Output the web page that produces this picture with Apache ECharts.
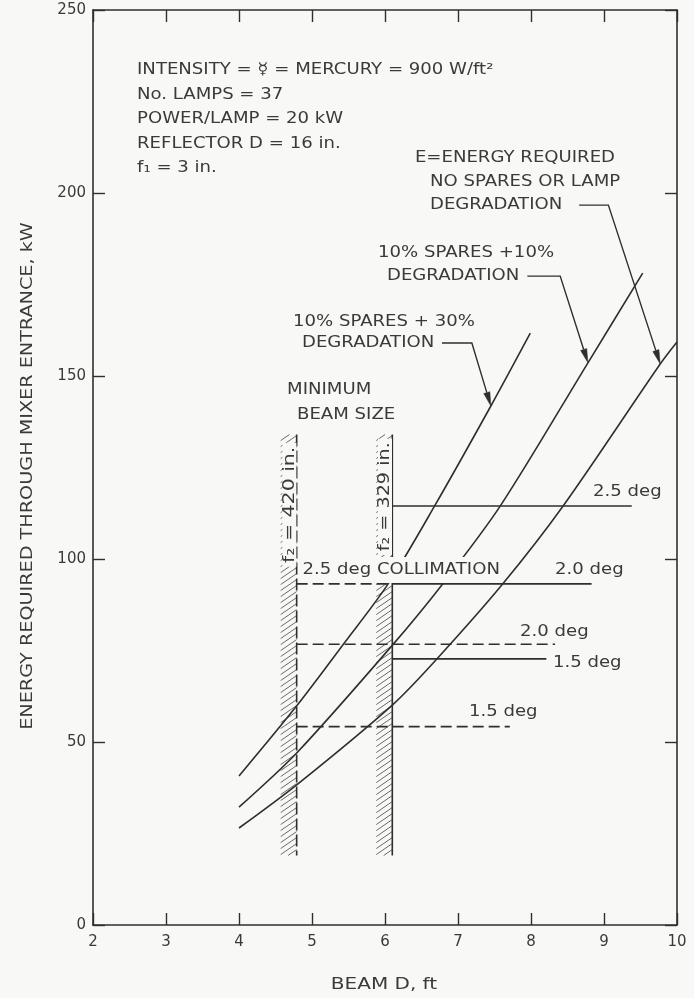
<!DOCTYPE html>
<html>
<head>
<meta charset="utf-8">
<script src="https://cdn.jsdelivr.net/npm/echarts@6/dist/echarts.min.js"></script>
<style>
  html, body { margin: 0; padding: 0; background: #f8f8f6; }
  #chart { width: 694px; height: 998px; }
</style>
</head>
<body>
<div id="chart"></div>
<script>
// Energy required through mixer entrance (kW) against beam diameter (ft)

const xTickValues = [2, 3, 4, 5, 6, 7, 8, 9, 10];
const yTickValues = [0, 50, 100, 150, 200, 250];

// Energy curves, [beam D (ft), energy (kW)]
const spares10Deg30 = [[4.0, 40.7], [4.78, 59.6], [5.43, 76.7], [6.05, 93.4], [6.68, 114.5], [7.45, 141.8], [7.99, 161.7]];
const spares10Deg10 = [[4.0, 32.2], [4.79, 47.0], [6.09, 76.2], [6.79, 93.2], [7.58, 114.5], [8.78, 153.6], [9.53, 178.1]];
const noSpares      = [[4.0, 26.5], [4.79, 38.3], [6.10, 60.1], [6.71, 72.7], [7.60, 92.9], [8.44, 114.5], [9.77, 153.3], [10.0, 159.3]];

// Minimum beam size for each secondary focal length
const f2Labels = ['f\u2082 = 420 in.', 'f\u2082 = 329 in.'];
const minBeamD = [4.79, 6.10];
const bandEnergy = [19, 134];

// Collimation limits, f2 = 420 in. (dashed) and f2 = 329 in. (solid)
const collimationDeg = ['2.5 deg', '2.0 deg', '1.5 deg'];
const f2_420_energy = [93.2, 76.7, 54.2];
const f2_420_endD   = [6.10, 8.33, 7.71];
const f2_329_energy = [114.5, 93.2, 72.7];
const f2_329_endD   = [9.38, 8.83, 8.21];

const INK = '#2f2f2f';
const TEXT = '#3a3a3a';
const BG = '#f8f8f6';
const FONT = '"DejaVu Sans", sans-serif';

const chart = echarts.init(document.getElementById('chart'), null, { renderer: 'canvas' });

function curveSeries(name, data) {
  return {
    name, type: 'line', data, smooth: 0.3,
    showSymbol: false, symbol: 'none', z: 3,
    lineStyle: { color: INK, width: 1.6 }
  };
}
function flatSeries(name, fromD, toD, e, dashed) {
  return {
    name, type: 'line', data: [[fromD, e], [toD, e]],
    showSymbol: false, symbol: 'none', z: 3,
    lineStyle: { color: INK, width: 1.6, type: dashed ? [11, 5] : 'solid' }
  };
}

const series = [
  curveSeries('10% spares + 30% degradation', spares10Deg30),
  curveSeries('10% spares + 10% degradation', spares10Deg10),
  curveSeries('No spares or lamp degradation', noSpares)
];
collimationDeg.forEach((deg, i) => {
  series.push(flatSeries('f2 420 ' + deg, minBeamD[0], f2_420_endD[i], f2_420_energy[i], true));
  series.push(flatSeries('f2 329 ' + deg, minBeamD[1], f2_329_endD[i], f2_329_energy[i], false));
});

// Hatched minimum-beam-size bands
series.push({
  name: 'Minimum beam size', type: 'custom', z: 2,
  data: minBeamD.map((d, i) => [d, bandEnergy[0], bandEnergy[1], i]),
  encode: { x: 0, y: [1, 2] },
  renderItem(params, api) {
    const xv = api.value(0), lo = api.value(1), hi = api.value(2), idx = api.value(3);
    const pTop = api.coord([xv, hi]);
    const pBot = api.coord([xv, lo]);
    const xr = pTop[0], w = 16, xl = xr - w, top = pTop[1], bot = pBot[1];
    const rise = 11, step = 6;
    const children = [];
    for (let y0 = top; y0 < bot + rise; y0 += step) {
      let x1 = xl, y1 = y0, x2 = xr, y2 = y0 - rise;
      if (y1 > bot) { const t = (y1 - bot) / rise; x1 = xl + t * w; y1 = bot; }
      if (y2 < top) { const t = (top - y2) / rise; x2 = xr - t * w; y2 = top; }
      if (y1 <= y2) continue;
      children.push({ type: 'line', shape: { x1, y1, x2, y2 }, style: { stroke: '#5a5a5a', lineWidth: 0.9 } });
    }
    const edgeStyle = { stroke: INK, lineWidth: 1.6 };
    if (idx === 0) edgeStyle.lineDash = [12, 4];
    children.push({ type: 'line', shape: { x1: xr, y1: top, x2: xr, y2: bot }, style: edgeStyle });
    return { type: 'group', children };
  }
});

const frameAxis = {
  type: 'value', splitLine: { show: false },
  axisLine: { show: true, onZero: false, lineStyle: { color: INK, width: 1.6 } },
  axisTick: { show: true, inside: true, length: 12, lineStyle: { color: INK, width: 1.4 } }
};

chart.setOption({
  animation: false,
  backgroundColor: BG,
  grid: { left: 93, right: 17, top: 10, bottom: 73 },
  xAxis: [
    Object.assign({}, frameAxis, {
      min: xTickValues[0], max: xTickValues[xTickValues.length - 1], interval: 1, position: 'bottom',
      axisLabel: { color: TEXT, fontSize: 15, fontFamily: FONT, margin: 10 }
    }),
    Object.assign({}, frameAxis, {
      min: xTickValues[0], max: xTickValues[xTickValues.length - 1], interval: 1, position: 'top',
      axisLabel: { show: false }
    })
  ],
  yAxis: [
    Object.assign({}, frameAxis, {
      min: yTickValues[0], max: yTickValues[yTickValues.length - 1], interval: 50, position: 'left',
      axisLabel: { color: TEXT, fontSize: 15, fontFamily: FONT, margin: 7 }
    }),
    Object.assign({}, frameAxis, {
      min: yTickValues[0], max: yTickValues[yTickValues.length - 1], interval: 50, position: 'right',
      axisLabel: { show: false }
    })
  ],
  series
});

// ---- annotations, placed in data coordinates ----
const toPx = p => chart.convertToPixel({ gridIndex: 0 }, p);
const elements = [];

function addText(str, at, o) {
  o = o || {};
  const p = o.px ? at : toPx(at);
  const style = {
    text: str, fill: TEXT, font: (o.size || 16) + 'px ' + FONT,
    align: o.align || 'left', verticalAlign: 'middle',
    textAlign: o.align || 'left', textVerticalAlign: 'middle'
  };
  if (o.bg) {
    style.backgroundColor = BG;
    style.padding = o.pad || [4, 2];
    if (o.lineHeight) style.lineHeight = o.lineHeight;
  }
  elements.push({
    type: 'text', x: p[0], y: p[1], rotation: o.rot || 0,
    scaleX: o.sx || 1.13, scaleY: 1, z: 100, style
  });
}

function addLeader(start, elbow, tip) {
  const a = toPx(start), b = toPx(elbow), c = toPx(tip);
  const dx = c[0] - b[0], dy = c[1] - b[1], len = Math.hypot(dx, dy);
  const ux = dx / len, uy = dy / len, hl = 14, hw = 3.2;
  const base = [c[0] - ux * hl, c[1] - uy * hl];
  elements.push({
    type: 'polyline', z: 100,
    shape: { points: [a, b, base] },
    style: { stroke: INK, lineWidth: 1.4, fill: null }
  });
  elements.push({
    type: 'polygon', z: 100,
    shape: { points: [c, [base[0] - uy * hw, base[1] + ux * hw], [base[0] + uy * hw, base[1] - ux * hw]] },
    style: { fill: INK, stroke: INK, lineWidth: 0.5 }
  });
}

// Parameter block
addText('INTENSITY = \u263F = MERCURY = 900 W/ft\u00B2', [2.603, 233.6]);
addText('No. LAMPS = 37', [2.603, 226.8]);
addText('POWER/LAMP = 20 kW', [2.603, 220.2]);
addText('REFLECTOR D = 16 in.', [2.603, 213.4]);
addText('f\u2081 = 3 in.', [2.603, 206.8]);

// Curve captions with leaders
addText('E=ENERGY REQUIRED', [6.41, 209.6]);
addText('NO SPARES OR LAMP', [6.616, 203.0]);
addText('DEGRADATION', [6.616, 196.7]);
addLeader([8.66, 196.7], [9.06, 196.7], noSpares[6]);

addText('10% SPARES +10%', [5.904, 183.6]);
addText('DEGRADATION', [6.027, 177.3]);
addLeader([7.95, 177.3], [8.40, 177.3], spares10Deg10[5]);

addText('10% SPARES + 30%', [4.74, 164.8]);
addText('DEGRADATION', [4.863, 159.0]);
addLeader([6.78, 159.0], [7.19, 159.0], spares10Deg30[5]);

addText('MINIMUM', [4.658, 146.2]);
addText('BEAM SIZE', [4.795, 139.3]);

// Focal-length labels beside the bands
addText(f2Labels[0], [4.69, 114.8], { align: 'center', rot: Math.PI / 2, sx: 1.28, bg: true, pad: [0, 3], lineHeight: 14 });
addText(f2Labels[1], [6.00, 117.0], { align: 'center', rot: Math.PI / 2, sx: 1.2, bg: true, pad: [0, 3], lineHeight: 14 });

// Collimation labels
addText(collimationDeg[0] + ' COLLIMATION', [4.84, 97.0], { bg: true, pad: [5, 2] });
addText(collimationDeg[0], [8.85, 118.3]);
addText(collimationDeg[1], [8.33, 97.0]);
addText(collimationDeg[1], [7.85, 80.0]);
addText(collimationDeg[2], [8.30, 71.6]);
addText(collimationDeg[2], [7.15, 58.2]);

// Axis titles
addText('BEAM D, ft', [384, 985], { px: true, align: 'center', sx: 1.25 });
addText('ENERGY REQUIRED THROUGH MIXER ENTRANCE, kW', [28, 476], { px: true, align: 'center', rot: Math.PI / 2, sx: 1.2 });

chart.setOption({ graphic: { elements } });
</script>
</body>
</html>
